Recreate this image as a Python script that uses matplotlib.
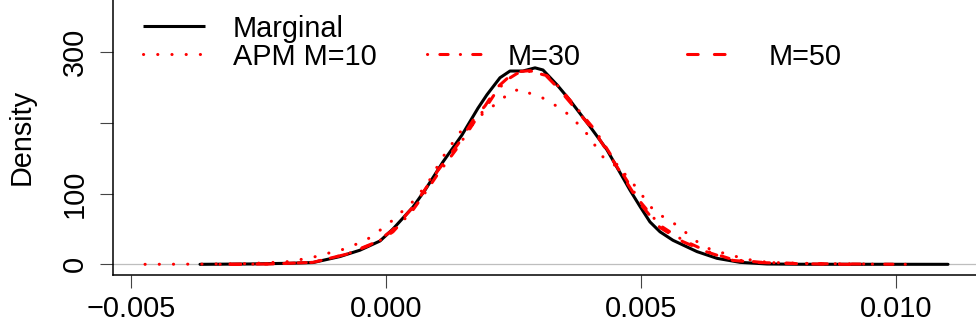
import matplotlib
matplotlib.use("Agg")
import matplotlib.pyplot as plt
from matplotlib.lines import Line2D

# ---------------- data ----------------
marginal_x = [-0.003647, -0.002667, -0.001882, -0.001431, -0.000902, -0.000510, -0.000118,
              0.000137, 0.000529, 0.000765, 0.001118, 0.001490, 0.001804, 0.001980, 0.002235,
              0.002431, 0.002686, 0.002922, 0.003078, 0.003353, 0.003608, 0.004000, 0.004333,
              0.004784, 0.004980, 0.005176, 0.005373, 0.005627, 0.006098, 0.006490, 0.006941,
              0.007471, 0.008118, 0.011020]
marginal_y = [0, 0.5, 1.5, 2.5, 11, 20, 33,
              50, 81, 105, 145, 183, 221, 240, 264,
              273.5, 273.5, 278, 275, 254, 232, 195, 162,
              105, 82, 60, 46, 34, 18, 8.5, 2.8,
              0.5, 0.1, 0]

m10_x = [-0.004725, -0.003647, -0.002667, -0.001941, -0.001745, -0.001529, -0.001333, -0.001118,
         -0.000922, -0.000725, -0.000529, -0.000333, -0.000157, 0.000020, 0.000176, 0.000333,
         0.000490, 0.000627, 0.000863, 0.001098, 0.001451, 0.001667, 0.001804, 0.001961,
         0.002118, 0.002294, 0.002471, 0.002667, 0.002843, 0.003059, 0.003235, 0.003431,
         0.003588, 0.003745, 0.003882, 0.004020, 0.004137, 0.004255, 0.004627, 0.004745,
         0.004882, 0.005020, 0.005137, 0.005275, 0.005451, 0.005627, 0.005804, 0.005961,
         0.006137, 0.006314, 0.006529, 0.006725, 0.006941, 0.007157, 0.007373, 0.007569,
         0.007784, 0.008510, 0.009490]
m10_y = [0, 0.3, 1, 3.7, 6, 8.5, 11.7, 16,
         19, 24.5, 30, 37, 46, 56, 65, 76,
         86, 97, 120, 150, 187, 195, 207, 217,
         225, 235, 245, 248, 241, 236, 228, 221,
         211, 200, 190, 177, 164, 152, 133, 122,
         111, 98, 86, 74.5, 66.5, 59, 49.5, 40,
         30, 22.6, 18, 13, 10, 6, 3.7, 2.8,
         2, 1, 0.4]

m30_x = [-0.003255, -0.002275, -0.001431, -0.000765, -0.000176, 0.000137, 0.000529, 0.000804,
         0.001000, 0.001412, 0.001745, 0.001941, 0.002176, 0.002392, 0.002569, 0.002824,
         0.003157, 0.003353, 0.003706, 0.004098, 0.004451, 0.004980, 0.005373, 0.005824,
         0.006294, 0.006804, 0.007333, 0.008118, 0.009490, 0.010275]
m30_y = [0, 0.5, 2.8, 14.5, 31, 46, 77, 105,
         126, 166, 203, 220, 246, 262, 270, 273,
         267, 254, 224, 190, 150, 89, 55, 34,
         18.5, 6.5, 3, 1, 0.3, 0]

m50_x = [-0.003059, -0.002275, -0.001431, -0.000765, -0.000176, 0.000137, 0.000529, 0.000804,
         0.001000, 0.001412, 0.001745, 0.001941, 0.002176, 0.002392, 0.002569, 0.002824,
         0.003157, 0.003353, 0.003706, 0.004098, 0.004451, 0.004980, 0.005373, 0.005824,
         0.006294, 0.006804, 0.007333, 0.008118, 0.009100]
m50_y = [0, 0.5, 2.8, 14.5, 32, 49, 81, 110,
         131, 170, 208, 224, 250, 264, 272.5, 274,
         265.5, 251, 221, 187, 147, 86, 52, 32,
         17.5, 5.5, 2.5, 0.8, 0]

xticks = [-0.005, 0.0, 0.005, 0.010]
xtick_labels = ["\u22120.005", "0.000", "0.005", "0.010"]
yticks = [0, 100, 200, 300]
ytick_labels = ["0", "100", "", "300"]
legend_labels = ["Marginal", "APM M=10", "M=30", "M=50"]
y_label = "Density"

# ---------------- figure ----------------
W, H = 976, 332
FS = 20.8
plt.rcParams['font.family'] = ['Liberation Sans', 'DejaVu Sans']
fig = plt.figure(figsize=(W / 100, H / 100), dpi=100)
ax = fig.add_axes([113 / W, 57.5 / H, 863 / W, 274.5 / H])

lw = 2.2
red = "#FF0000"
dotted = (0, (0.05, 4.6))
dotdash = (0, (0.05, 4.0, 2.7, 4.0))
dashed = (0, (3.5, 5.3))

ax.axhline(0, color="#BEBEBE", lw=0.9, zorder=1)
ax.plot(marginal_x, marginal_y, color="black", lw=lw, solid_capstyle="round", zorder=3)
ax.plot(m10_x, m10_y, color=red, lw=lw, linestyle=dotted, dash_capstyle="round", zorder=4)
ax.plot(m30_x, m30_y, color=red, lw=lw, linestyle=dotdash, dash_capstyle="round", zorder=4)
ax.plot(m50_x, m50_y, color=red, lw=lw, linestyle=dashed, dash_capstyle="round", zorder=4)

ax.set_xlim(-0.005353, 0.011569)
ax.set_ylim(-14.4, 374.0)

for s in ["top", "right"]:
    ax.spines[s].set_visible(False)
for s in ["left", "bottom"]:
    ax.spines[s].set_linewidth(1.1)
    ax.spines[s].set_color("black")

ax.set_xticks(xticks)
ax.set_xticklabels(xtick_labels)
ax.set_yticks(yticks)
ax.set_yticklabels(ytick_labels, rotation=90, va="center")
ax.tick_params(axis="both", direction="out", length=9.5, width=0.8, color="#444444",
               labelsize=FS, labelcolor="black")
ax.tick_params(axis="x", pad=5.5)
ax.tick_params(axis="y", pad=8)

fig.text(22 / W, 1 - 137 / H, y_label, rotation=90, ha="center", va="center", fontsize=FS)

# ---------------- legend (manual, R style) ----------------
def fx(px):
    return px / W

def fy(py):
    return 1 - py / H

entries = [
    (legend_labels[0], dict(color="black", linestyle="-"), 143, 205, 26, 233, 37),
    (legend_labels[1], dict(color=red, linestyle=dotted), 143, 203, 54, 233, 65),
    (legend_labels[2], dict(color=red, linestyle=dotdash), 427, 485, 54, 508, 65),
    (legend_labels[3], dict(color=red, linestyle=dashed), 687, 740, 54, 769, 65),
]
for label, style, x0, x1, ly, tx, ty in entries:
    fig.add_artist(Line2D([fx(x0), fx(x1)], [fy(ly), fy(ly)], transform=fig.transFigure,
                          lw=lw, dash_capstyle="round", solid_capstyle="butt", **style))
    fig.text(fx(tx), fy(ty), label, ha="left", va="baseline", fontsize=FS, color="black")

fig.savefig("out.png", dpi=100)
